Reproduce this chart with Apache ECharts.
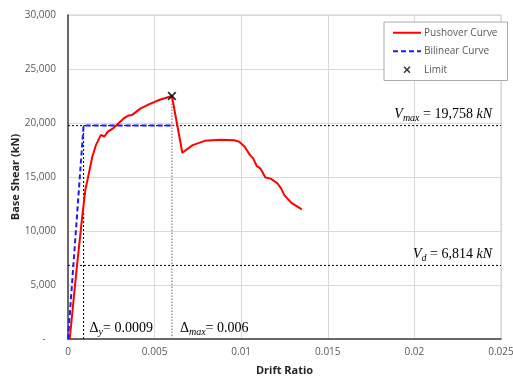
<!DOCTYPE html>
<html>
<head>
<meta charset="utf-8">
<script src="https://cdn.jsdelivr.net/npm/echarts@6/dist/echarts.min.js"></script>
<style>
  html, body { margin: 0; padding: 0; background: #fff; }
  #chart { width: 513px; height: 378px; }
</style>
</head>
<body>
<div id="chart"></div>
<script>
// pushover curve (drift ratio, base shear kN)
const pushDrift = [0.0001, 0.0005, 0.0008, 0.001, 0.0012, 0.0014, 0.0016, 0.0019, 0.0021, 0.0023, 0.0026, 0.0029, 0.0032, 0.0035, 0.0037, 0.0042, 0.0047, 0.0053, 0.006,
  0.0066, 0.0072, 0.0079, 0.0088, 0.0096, 0.0099, 0.0102, 0.0105, 0.0107, 0.0109, 0.0111, 0.0114, 0.0117, 0.0121, 0.0123, 0.0125, 0.0129, 0.0135];
const pushShear = [0, 6500, 11000, 13800, 15300, 16850, 17900, 18900, 18750, 19200, 19500, 19950, 20400, 20700, 20750, 21350, 21750, 22150, 22500,
  17250, 17950, 18350, 18450, 18400, 18250, 17800, 17050, 16700, 16000, 15800, 14950, 14850, 14400, 13950, 13300, 12600, 12000];

// bilinear idealisation
const biDrift = [0, 0.0009, 0.006];
const biShear = [0, 19758, 19758];

// limit point
const limitPt = [0.006, 22500];

// reference values
const vMax = 19758;
const vD = 6814;
const dY = 0.0009;
const dMax = 0.006;
const xMax = 0.025;

// axis ticks
const xTicks = [0, 0.005, 0.01, 0.015, 0.02, 0.025];
const yTicks = [0, 5000, 10000, 15000, 20000, 25000, 30000];

const chart = echarts.init(document.getElementById('chart'));

const mathFont = '"Liberation Serif", "DejaVu Serif", serif';
const rich = {
  v: { fontFamily: mathFont, fontStyle: 'italic', fontSize: 14, color: '#000' },
  s: { fontFamily: mathFont, fontStyle: 'italic', fontSize: 10, color: '#000', padding: [8, 0, 0, 0] },
  n: { fontFamily: mathFont, fontSize: 14, color: '#000' }
};

const xCross = 'path://M0,1.5L1.5,0L5,3.5L8.5,0L10,1.5L6.5,5L10,8.5L8.5,10L5,6.5L1.5,10L0,8.5L3.5,5Z';

const option = {
  animation: false,
  textStyle: { fontFamily: '"Open Sans", "Noto Sans", sans-serif' },
  grid: { left: 68, right: 12, top: 15, bottom: 39, outerBoundsMode: 'none', containLabel: false,
    show: true, borderColor: '#c8c8c8', borderWidth: 1 },
  legend: {
    orient: 'vertical',
    left: 384,
    top: 22,
    width: 110,
    padding: [4, 10, 4, 8],
    itemGap: 5,
    itemWidth: 28,
    itemHeight: 7,
    borderColor: '#aaa',
    borderWidth: 1,
    backgroundColor: '#fff',
    textStyle: { color: '#595959', fontSize: 10, lineHeight: 13.5, padding: [0, 0, 0, -2] },
    data: [
      { name: 'Pushover Curve', itemStyle: { opacity: 0 } },
      { name: 'Bilinear Curve', itemStyle: { opacity: 0 } },
      { name: 'Limit', icon: xCross, itemStyle: { color: '#000' } }
    ]
  },
  xAxis: {
    type: 'value',
    min: xTicks[0],
    max: xTicks[xTicks.length - 1],
    interval: 0.005,
    name: 'Drift Ratio',
    nameLocation: 'middle',
    nameGap: 26,
    nameMoveOverlap: false,
    nameTextStyle: { fontWeight: 'bold', fontSize: 11, color: '#262626' },
    axisLine: { lineStyle: { color: '#404040', width: 1.5 } },
    axisTick: { show: false },
    axisLabel: { color: '#595959', fontSize: 10, margin: 8, formatter: v => String(+v.toFixed(3)) },
    splitLine: { lineStyle: { color: '#d9d9d9' } }
  },
  yAxis: {
    type: 'value',
    min: yTicks[0],
    max: yTicks[yTicks.length - 1],
    interval: 5000,
    name: 'Base Shear (kN)',
    nameLocation: 'middle',
    nameGap: 47,
    nameMoveOverlap: false,
    nameTextStyle: { fontWeight: 'bold', fontSize: 11, color: '#262626' },
    axisLine: { show: true, lineStyle: { color: '#404040', width: 1.5 } },
    axisTick: { show: false },
    axisLabel: { color: '#595959', fontSize: 10, margin: 12,
      formatter: v => v === 0 ? '-    ' : v.toLocaleString('en-US') },
    splitLine: { lineStyle: { color: '#d9d9d9' } }
  },
  series: [
    {
      name: 'Vmax', type: 'line', silent: true, symbol: 'none', z: 3,
      data: [[0, vMax], [xMax, vMax]],
      lineStyle: { color: '#000', width: 1, type: [2, 2] },
      markPoint: {
        symbol: 'circle', symbolSize: 0,
        data: [{ coord: [xMax, vMax] }],
        label: { show: true, position: 'left', offset: [-4, -11], formatter: '{v|V}{s|max}{n| = 19,758 }{v|kN}', rich: rich }
      }
    },
    {
      name: 'Vd', type: 'line', silent: true, symbol: 'none', z: 3,
      data: [[0, vD], [xMax, vD]],
      lineStyle: { color: '#000', width: 1, type: [2, 2] },
      markPoint: {
        symbol: 'circle', symbolSize: 0,
        data: [{ coord: [xMax, vD] }],
        label: { show: true, position: 'left', offset: [-4, -11], formatter: '{v|V}{s|d}{n| = 6,814 }{v|kN}', rich: rich }
      }
    },
    {
      name: 'dy', type: 'line', silent: true, symbol: 'none', z: 3,
      data: [[dY, 0], [dY, vMax]],
      lineStyle: { color: '#000', width: 1, type: [2, 2] },
      markPoint: {
        symbol: 'circle', symbolSize: 0,
        data: [{ coord: [dY, 0] }],
        label: { show: true, position: 'right', offset: [1, -11], formatter: '{n|Δ}{s|y}{n|= 0.0009}', rich: rich }
      }
    },
    {
      name: 'dmax', type: 'line', silent: true, symbol: 'none', z: 3,
      data: [[dMax, 0], [dMax, limitPt[1]]],
      lineStyle: { color: '#808080', width: 1.2, type: [1.5, 1.5] },
      markPoint: {
        symbol: 'circle', symbolSize: 0,
        data: [{ coord: [dMax, 0] }],
        label: { show: true, position: 'right', offset: [3, -11], formatter: '{n|Δ}{s|max}{n|= 0.006}', rich: rich }
      }
    },
    {
      name: 'Pushover Curve', type: 'line', symbol: 'none', z: 4,
      data: pushDrift.map((d, i) => [d, pushShear[i]]),
      lineStyle: { color: '#ff0000', width: 2 },
      itemStyle: { color: '#ff0000' }
    },
    {
      name: 'Bilinear Curve', type: 'line', symbol: 'none', z: 5,
      data: biDrift.map((d, i) => [d, biShear[i]]),
      lineStyle: { color: '#1a1aff', width: 2, type: [5, 3] },
      itemStyle: { color: '#1a1aff' }
    },
    {
      name: 'Limit', type: 'scatter', symbol: xCross, symbolSize: 9, z: 6,
      data: [limitPt],
      itemStyle: { color: '#000' }
    }
  ]
};

chart.setOption(option);
window.addEventListener('resize', function () { chart.resize(); });
</script>
</body>
</html>
